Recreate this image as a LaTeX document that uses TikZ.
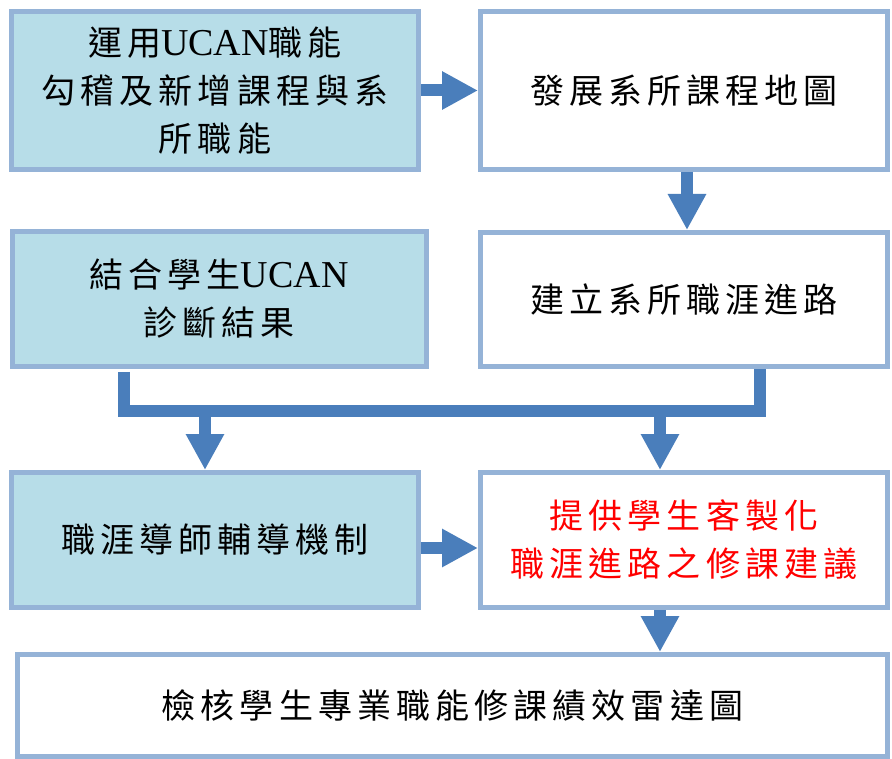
\documentclass[tikz,border=0pt]{standalone}
\usepackage{fontspec}
\setmainfont{Liberation Serif}
\newfontfamily\cjk{Noto Sans CJK TC}[LetterSpace=15]
\usetikzlibrary{arrows.meta}

\definecolor{boxline}{HTML}{95B3D7}
\definecolor{boxfill}{HTML}{B7DDE8}
\definecolor{flow}{HTML}{4A7EBB}
\newcommand{\ucan}{{\rmfamily\fontsize{38pt}{48pt}\selectfont UCAN}}

\tikzset{
  box/.style={draw=boxline, line width=5pt, inner sep=0pt, align=center,
    font=\fontsize{34pt}{48pt}\selectfont\cjk},
  tealbox/.style={box, fill=boxfill},
  fatarrow/.style={draw=flow, line width=12pt, -{Triangle[length=36pt,width=36pt]}},
  bus/.style={draw=flow, line width=12pt, line join=miter},
}

\begin{document}
\begin{tikzpicture}[x=1pt,y=-1pt]
  \useasboundingbox (0,0) rectangle (892,759);

  % left column
  \node[tealbox, minimum width=407pt, minimum height=158pt] (ucan) at (215,90.5)
    {運用\ucan 職能\\勾稽及新增課程與系\\所職能};
  \node[tealbox, minimum width=414pt, minimum height=135pt] (diag) at (219,299)
    {結合學生\ucan\\診斷結果};
  \node[tealbox, minimum width=407pt, minimum height=135pt] (mentor) at (215,540)
    {職涯導師輔導機制};

  % right column
  \node[box, minimum width=407pt, minimum height=158pt] (map) at (684,90.5)
    {發展系所課程地圖};
  \node[box, minimum width=407pt, minimum height=134pt] (path) at (684,299.5)
    {建立系所職涯進路};
  \node[box, text=red, minimum width=407pt, minimum height=135pt] (advice) at (684,540)
    {提供學生客製化\\職涯進路之修課建議};

  % bottom
  \node[box, minimum width=870pt, minimum height=102pt] (radar) at (452.5,705.5)
    {檢核學生專業職能修課績效雷達圖};

  \coordinate (busmid) at (440,411);

  \draw[fatarrow] (ucan.east) -- (map.west);
  \draw[fatarrow] ([xshift=3pt]map.south) -- ([xshift=3pt]path.north);
  \draw[bus] ([xshift=-95pt,yshift=-3pt]diag.south) |- (busmid) -| ([xshift=76pt]path.south);
  \draw[fatarrow] ([xshift=-10pt]mentor.north |- busmid) -- ([xshift=-10pt]mentor.north);
  \draw[fatarrow] ([xshift=-24pt]advice.north |- busmid) -- ([xshift=-24pt]advice.north);
  \draw[fatarrow] ([yshift=-8pt]mentor.east) -- ([yshift=-8pt]advice.west);
  \draw[fatarrow] ([xshift=-24pt]advice.south) -- ([xshift=-24pt]advice.south |- radar.north);
\end{tikzpicture}
\end{document}
